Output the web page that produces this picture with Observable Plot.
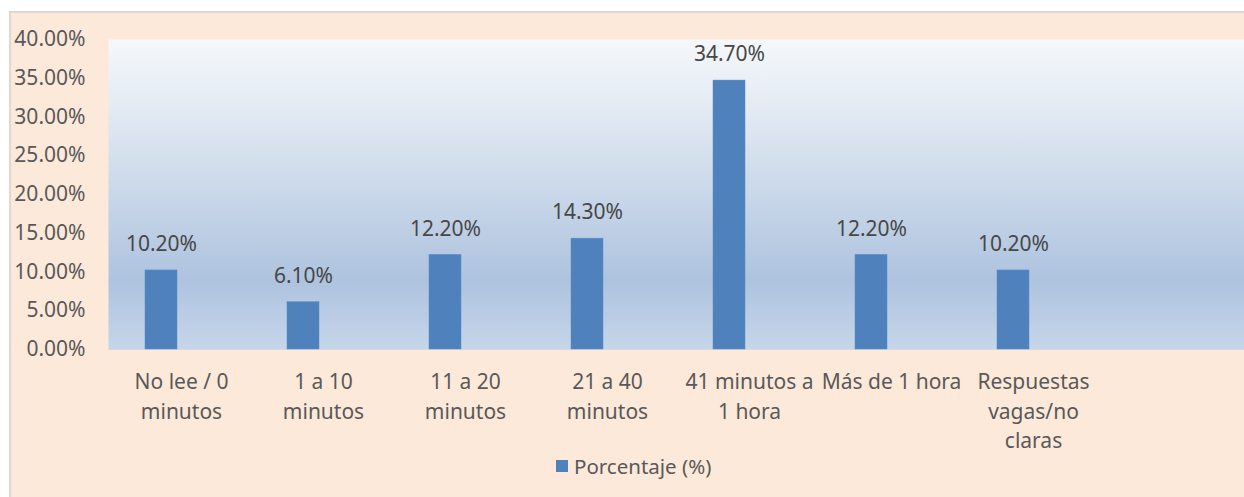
<!DOCTYPE html>
<html>
<head>
<meta charset="utf-8">
<script src="https://cdn.jsdelivr.net/npm/d3@7"></script>
<script src="https://cdn.jsdelivr.net/npm/@observablehq/plot@0.6"></script>
<style>
  html, body { margin: 0; padding: 0; background: #ffffff; width: 1244px; height: 497px; overflow: hidden; }
  #chart { position: absolute; left: 9px; top: 11px; width: 1250px; height: 500px; background: #FDE9D9; border-top: 2px solid #D9D9D9; border-left: 2px solid #D9D9D9; box-sizing: border-box; }
  #plot { position: absolute; left: 0; top: 0; }
  #legend { position: absolute; left: 556px; top: 454px; height: 24px; display: flex; align-items: center; font-family: "Noto Sans", sans-serif; font-size: 20.5px; color: #595959; }
  #legend .sw { width: 12px; height: 12px; background: #4F81BD; margin-right: 6px; }
</style>
</head>
<body>
<div id="chart"></div>
<div id="plot"></div>
<div id="legend"><div class="sw"></div><span>Porcentaje (%)</span></div>
<script>
const categories = ["No lee / 0 minutos", "1 a 10 minutos", "11 a 20 minutos", "21 a 40 minutos", "41 minutos a 1 hora", "Más de 1 hora", "Respuestas vagas/no claras"];
const tickLabels = ["No lee / 0\nminutos", "1 a 10\nminutos", "11 a 20\nminutos", "21 a 40\nminutos", "41 minutos a\n1 hora", "Más de 1 hora", "Respuestas\nvagas/no\nclaras"];
const values = [10.2, 6.1, 12.2, 14.3, 34.7, 12.2, 10.2];
const yTicks = [0, 5, 10, 15, 20, 25, 30, 35, 40];
const seriesName = "Porcentaje (%)";

const data = categories.map((c, i) => ({cat: c, value: values[i], tick: tickLabels[i]}));
const fmt = v => v.toFixed(2) + "%";
const domainX = [...categories, " "];

const chart = Plot.plot({
  width: 1244,
  height: 455,
  marginLeft: 108,
  marginRight: 0,
  marginTop: 39,
  marginBottom: 106,
  style: {background: "transparent", fontFamily: "Noto Sans, sans-serif", fontSize: "21px", color: "#595959", overflow: "visible"},
  x: {domain: domainX, range: [108, 1247], paddingInner: 0.775, paddingOuter: 0.3875, align: 0.5, axis: null},
  y: {domain: [0, 40], ticks: yTicks, tickFormat: fmt, tickSize: 0, tickPadding: 23, label: null, grid: false},
  marks: [
    Plot.frame({fill: "url(#plotbg)", stroke: "none"}),
    Plot.ruleY([0], {stroke: "#D9D9D9", strokeWidth: 1}),
    Plot.barY(data, {x: "cat", y: "value", fill: "#4F81BD", stroke: "#5A8AC2", strokeWidth: 0.5, dx: -20}),
    Plot.text(data, {x: "cat", y: "value", text: d => fmt(d.value), dx: -20, dy: -26, fill: "#474747", fontSize: 21}),
    Plot.text(data, {x: "cat", text: "tick", frameAnchor: "bottom", lineAnchor: "top", dy: 19, lineHeight: 1.4, fill: "#595959", fontSize: 21})
  ]
});

const ns = "http://www.w3.org/2000/svg";
const defs = document.createElementNS(ns, "defs");
const grad = document.createElementNS(ns, "linearGradient");
grad.setAttribute("id", "plotbg");
grad.setAttribute("x1", "0"); grad.setAttribute("y1", "0");
grad.setAttribute("x2", "0"); grad.setAttribute("y2", "1");
[["0", "#F5F8FB"], ["0.3", "#DCE5F0"], ["0.78", "#AEC3DF"], ["1", "#C6D6EA"]].forEach(([o, c]) => {
  const s = document.createElementNS(ns, "stop");
  s.setAttribute("offset", o);
  s.setAttribute("stop-color", c);
  grad.appendChild(s);
});
defs.appendChild(grad);
chart.insertBefore(defs, chart.firstChild);
document.getElementById("plot").appendChild(chart);
</script>
</body>
</html>
